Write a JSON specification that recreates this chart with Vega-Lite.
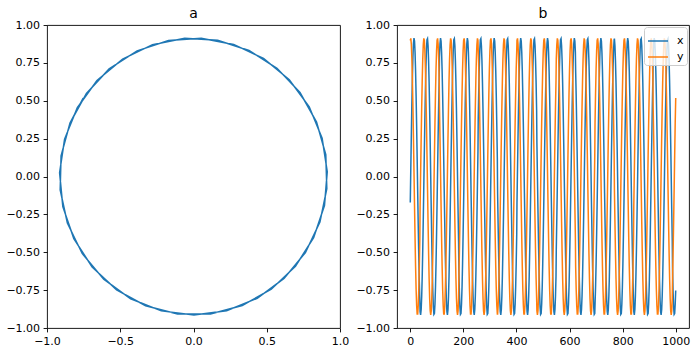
{
"$schema": "https://vega.github.io/schema/vega-lite/v6.json",
"padding": {"left": 5, "top": 6, "right": 5, "bottom": 5},
"background": "white",
"bounds": "flush",
"resolve": {"legend": {"color": "independent"}},
"config": {
"font": "DejaVu Sans",
"view": {"stroke": "#000", "strokeWidth": 0.9},
"axis": {"grid": false, "domain": false, "labelFlush": false, "tickColor": "#000", "tickSize": 3.9, "tickWidth": 0.9, "labelColor": "#000", "labelFontSize": 11, "labelPadding": 3.5, "labelFont": "DejaVu Sans"},
"title": {"fontSize": 14, "fontWeight": "normal", "font": "DejaVu Sans", "color": "#000", "offset": -2},
"concat": {"spacing": 57}
},
"data": {"values": [
{"t":0,"x":-0.171,"y":0.898},{"t":2,"x":0.053,"y":0.912},{"t":4,"x":0.274,"y":0.872},{"t":6,"x":0.478,"y":0.779},{"t":8,"x":0.654,"y":0.639},{"t":10,"x":0.79,"y":0.46},{"t":12,"x":0.878,"y":0.253},{"t":14,"x":0.913,"y":0.032},{"t":16,"x":0.894,"y":-0.192},{"t":18,"x":0.82,"y":-0.404},{"t":20,"x":0.696,"y":-0.592},{"t":22,"x":0.531,"y":-0.744},{"t":24,"x":0.333,"y":-0.851},{"t":26,"x":0.116,"y":-0.907},{"t":28,"x":-0.109,"y":-0.907},{"t":30,"x":-0.327,"y":-0.853},{"t":32,"x":-0.525,"y":-0.748},{"t":34,"x":-0.692,"y":-0.597},{"t":36,"x":-0.817,"y":-0.41},{"t":37,"x":-0.892,"y":-0.199},{"t":39,"x":-0.914,"y":0.025},{"t":41,"x":-0.88,"y":0.247},{"t":43,"x":-0.793,"y":0.454},{"t":45,"x":-0.659,"y":0.634},{"t":47,"x":-0.484,"y":0.775},{"t":49,"x":-0.28,"y":0.87},{"t":51,"x":-0.06,"y":0.912},{"t":53,"x":0.165,"y":0.899},{"t":55,"x":0.379,"y":0.832},{"t":57,"x":0.57,"y":0.714},{"t":59,"x":0.727,"y":0.554},{"t":61,"x":0.84,"y":0.359},{"t":63,"x":0.903,"y":0.144},{"t":65,"x":0.91,"y":-0.081},{"t":67,"x":0.863,"y":-0.301},{"t":69,"x":0.764,"y":-0.502},{"t":71,"x":0.618,"y":-0.673},{"t":73,"x":0.435,"y":-0.804},{"t":75,"x":0.226,"y":-0.886},{"t":77,"x":0.003,"y":-0.914},{"t":79,"x":-0.22,"y":-0.887},{"t":81,"x":-0.429,"y":-0.807},{"t":83,"x":-0.613,"y":-0.678},{"t":85,"x":-0.76,"y":-0.508},{"t":87,"x":-0.861,"y":-0.307},{"t":89,"x":-0.91,"y":-0.088},{"t":91,"x":-0.904,"y":0.137},{"t":93,"x":-0.843,"y":0.353},{"t":95,"x":-0.731,"y":0.548},{"t":97,"x":-0.576,"y":0.71},{"t":99,"x":-0.385,"y":0.829},
{"t":101,"x":-0.171,"y":0.898},{"t":103,"x":0.053,"y":0.912},{"t":105,"x":0.274,"y":0.872},{"t":107,"x":0.478,"y":0.779},{"t":109,"x":0.654,"y":0.639},{"t":110,"x":0.79,"y":0.46},{"t":112,"x":0.878,"y":0.253},{"t":114,"x":0.913,"y":0.032},{"t":116,"x":0.894,"y":-0.192},{"t":118,"x":0.82,"y":-0.404},{"t":120,"x":0.696,"y":-0.592},{"t":122,"x":0.531,"y":-0.744},{"t":124,"x":0.333,"y":-0.851},{"t":126,"x":0.116,"y":-0.907},{"t":128,"x":-0.109,"y":-0.907},{"t":130,"x":-0.327,"y":-0.853},{"t":132,"x":-0.525,"y":-0.748},{"t":134,"x":-0.692,"y":-0.597},{"t":136,"x":-0.817,"y":-0.41},{"t":138,"x":-0.892,"y":-0.199},{"t":140,"x":-0.914,"y":0.025},{"t":142,"x":-0.88,"y":0.247},{"t":144,"x":-0.793,"y":0.454},{"t":146,"x":-0.659,"y":0.634},{"t":148,"x":-0.484,"y":0.775},{"t":150,"x":-0.28,"y":0.87},{"t":152,"x":-0.06,"y":0.912},{"t":154,"x":0.165,"y":0.899},{"t":156,"x":0.379,"y":0.832},{"t":158,"x":0.57,"y":0.714},{"t":160,"x":0.727,"y":0.554},{"t":162,"x":0.84,"y":0.359},{"t":164,"x":0.903,"y":0.144},{"t":166,"x":0.91,"y":-0.081},{"t":168,"x":0.863,"y":-0.301},{"t":170,"x":0.764,"y":-0.502},{"t":172,"x":0.618,"y":-0.673},{"t":174,"x":0.435,"y":-0.804},{"t":176,"x":0.226,"y":-0.886},{"t":178,"x":0.003,"y":-0.914},{"t":180,"x":-0.22,"y":-0.887},{"t":182,"x":-0.429,"y":-0.807},{"t":183,"x":-0.613,"y":-0.678},{"t":185,"x":-0.76,"y":-0.508},{"t":187,"x":-0.861,"y":-0.307},{"t":189,"x":-0.91,"y":-0.088},{"t":191,"x":-0.904,"y":0.137},{"t":193,"x":-0.843,"y":0.353},{"t":195,"x":-0.731,"y":0.548},{"t":197,"x":-0.576,"y":0.71},{"t":199,"x":-0.385,"y":0.829},
{"t":201,"x":-0.171,"y":0.898},{"t":203,"x":0.053,"y":0.912},{"t":205,"x":0.274,"y":0.872},{"t":207,"x":0.478,"y":0.779},{"t":209,"x":0.654,"y":0.639},{"t":211,"x":0.79,"y":0.46},{"t":213,"x":0.878,"y":0.253},{"t":215,"x":0.913,"y":0.032},{"t":217,"x":0.894,"y":-0.192},{"t":219,"x":0.82,"y":-0.404},{"t":221,"x":0.696,"y":-0.592},{"t":223,"x":0.531,"y":-0.744},{"t":225,"x":0.333,"y":-0.851},{"t":227,"x":0.116,"y":-0.907},{"t":229,"x":-0.109,"y":-0.907},{"t":231,"x":-0.327,"y":-0.853},{"t":233,"x":-0.525,"y":-0.748},{"t":235,"x":-0.692,"y":-0.597},{"t":237,"x":-0.817,"y":-0.41},{"t":239,"x":-0.892,"y":-0.199},{"t":241,"x":-0.914,"y":0.025},{"t":243,"x":-0.88,"y":0.247},{"t":245,"x":-0.793,"y":0.454},{"t":247,"x":-0.659,"y":0.634},{"t":249,"x":-0.484,"y":0.775},{"t":251,"x":-0.28,"y":0.87},{"t":253,"x":-0.06,"y":0.912},{"t":255,"x":0.165,"y":0.899},{"t":256,"x":0.379,"y":0.832},{"t":258,"x":0.57,"y":0.714},{"t":260,"x":0.727,"y":0.554},{"t":262,"x":0.84,"y":0.359},{"t":264,"x":0.903,"y":0.144},{"t":266,"x":0.91,"y":-0.081},{"t":268,"x":0.863,"y":-0.301},{"t":270,"x":0.764,"y":-0.502},{"t":272,"x":0.618,"y":-0.673},{"t":274,"x":0.435,"y":-0.804},{"t":276,"x":0.226,"y":-0.886},{"t":278,"x":0.003,"y":-0.914},{"t":280,"x":-0.22,"y":-0.887},{"t":282,"x":-0.429,"y":-0.807},{"t":284,"x":-0.613,"y":-0.678},{"t":286,"x":-0.76,"y":-0.508},{"t":288,"x":-0.861,"y":-0.307},{"t":290,"x":-0.91,"y":-0.088},{"t":292,"x":-0.904,"y":0.137},{"t":294,"x":-0.843,"y":0.353},{"t":296,"x":-0.731,"y":0.548},{"t":298,"x":-0.576,"y":0.71},{"t":300,"x":-0.385,"y":0.829},
{"t":302,"x":-0.171,"y":0.898},{"t":304,"x":0.053,"y":0.912},{"t":306,"x":0.274,"y":0.872},{"t":308,"x":0.478,"y":0.779},{"t":310,"x":0.654,"y":0.639},{"t":312,"x":0.79,"y":0.46},{"t":314,"x":0.878,"y":0.253},{"t":316,"x":0.913,"y":0.032},{"t":318,"x":0.894,"y":-0.192},{"t":320,"x":0.82,"y":-0.404},{"t":322,"x":0.696,"y":-0.592},{"t":324,"x":0.531,"y":-0.744},{"t":326,"x":0.333,"y":-0.851},{"t":328,"x":0.116,"y":-0.907},{"t":329,"x":-0.109,"y":-0.907},{"t":331,"x":-0.327,"y":-0.853},{"t":333,"x":-0.525,"y":-0.748},{"t":335,"x":-0.692,"y":-0.597},{"t":337,"x":-0.817,"y":-0.41},{"t":339,"x":-0.892,"y":-0.199},{"t":341,"x":-0.914,"y":0.025},{"t":343,"x":-0.88,"y":0.247},{"t":345,"x":-0.793,"y":0.454},{"t":347,"x":-0.659,"y":0.634},{"t":349,"x":-0.484,"y":0.775},{"t":351,"x":-0.28,"y":0.87},{"t":353,"x":-0.06,"y":0.912},{"t":355,"x":0.165,"y":0.899},{"t":357,"x":0.379,"y":0.832},{"t":359,"x":0.57,"y":0.714},{"t":361,"x":0.727,"y":0.554},{"t":363,"x":0.84,"y":0.359},{"t":365,"x":0.903,"y":0.144},{"t":367,"x":0.91,"y":-0.081},{"t":369,"x":0.863,"y":-0.301},{"t":371,"x":0.764,"y":-0.502},{"t":373,"x":0.618,"y":-0.673},{"t":375,"x":0.435,"y":-0.804},{"t":377,"x":0.226,"y":-0.886},{"t":379,"x":0.003,"y":-0.914},{"t":381,"x":-0.22,"y":-0.887},{"t":383,"x":-0.429,"y":-0.807},{"t":385,"x":-0.613,"y":-0.678},{"t":387,"x":-0.76,"y":-0.508},{"t":389,"x":-0.861,"y":-0.307},{"t":391,"x":-0.91,"y":-0.088},{"t":393,"x":-0.904,"y":0.137},{"t":395,"x":-0.843,"y":0.353},{"t":397,"x":-0.731,"y":0.548},{"t":399,"x":-0.576,"y":0.71},{"t":401,"x":-0.385,"y":0.829},
{"t":402,"x":-0.171,"y":0.898},{"t":404,"x":0.053,"y":0.912},{"t":406,"x":0.274,"y":0.872},{"t":408,"x":0.478,"y":0.779},{"t":410,"x":0.654,"y":0.639},{"t":412,"x":0.79,"y":0.46},{"t":414,"x":0.878,"y":0.253},{"t":416,"x":0.913,"y":0.032},{"t":418,"x":0.894,"y":-0.192},{"t":420,"x":0.82,"y":-0.404},{"t":422,"x":0.696,"y":-0.592},{"t":424,"x":0.531,"y":-0.744},{"t":426,"x":0.333,"y":-0.851},{"t":428,"x":0.116,"y":-0.907},{"t":430,"x":-0.109,"y":-0.907},{"t":432,"x":-0.327,"y":-0.853},{"t":434,"x":-0.525,"y":-0.748},{"t":436,"x":-0.692,"y":-0.597},{"t":438,"x":-0.817,"y":-0.41},{"t":440,"x":-0.892,"y":-0.199},{"t":442,"x":-0.914,"y":0.025},{"t":444,"x":-0.88,"y":0.247},{"t":446,"x":-0.793,"y":0.454},{"t":448,"x":-0.659,"y":0.634},{"t":450,"x":-0.484,"y":0.775},{"t":452,"x":-0.28,"y":0.87},{"t":454,"x":-0.06,"y":0.912},{"t":456,"x":0.165,"y":0.899},{"t":458,"x":0.379,"y":0.832},{"t":460,"x":0.57,"y":0.714},{"t":462,"x":0.727,"y":0.554},{"t":464,"x":0.84,"y":0.359},{"t":466,"x":0.903,"y":0.144},{"t":468,"x":0.91,"y":-0.081},{"t":470,"x":0.863,"y":-0.301},{"t":472,"x":0.764,"y":-0.502},{"t":474,"x":0.618,"y":-0.673},{"t":476,"x":0.435,"y":-0.804},{"t":477,"x":0.226,"y":-0.886},{"t":479,"x":0.003,"y":-0.914},{"t":481,"x":-0.22,"y":-0.887},{"t":483,"x":-0.429,"y":-0.807},{"t":485,"x":-0.613,"y":-0.678},{"t":487,"x":-0.76,"y":-0.508},{"t":489,"x":-0.861,"y":-0.307},{"t":491,"x":-0.91,"y":-0.088},{"t":493,"x":-0.904,"y":0.137},{"t":495,"x":-0.843,"y":0.353},{"t":497,"x":-0.731,"y":0.548},{"t":499,"x":-0.576,"y":0.71},{"t":501,"x":-0.385,"y":0.829},
{"t":503,"x":-0.171,"y":0.898},{"t":505,"x":0.053,"y":0.912},{"t":507,"x":0.274,"y":0.872},{"t":509,"x":0.478,"y":0.779},{"t":511,"x":0.654,"y":0.639},{"t":513,"x":0.79,"y":0.46},{"t":515,"x":0.878,"y":0.253},{"t":517,"x":0.913,"y":0.032},{"t":519,"x":0.894,"y":-0.192},{"t":521,"x":0.82,"y":-0.404},{"t":523,"x":0.696,"y":-0.592},{"t":525,"x":0.531,"y":-0.744},{"t":527,"x":0.333,"y":-0.851},{"t":529,"x":0.116,"y":-0.907},{"t":531,"x":-0.109,"y":-0.907},{"t":533,"x":-0.327,"y":-0.853},{"t":535,"x":-0.525,"y":-0.748},{"t":537,"x":-0.692,"y":-0.597},{"t":539,"x":-0.817,"y":-0.41},{"t":541,"x":-0.892,"y":-0.199},{"t":543,"x":-0.914,"y":0.025},{"t":545,"x":-0.88,"y":0.247},{"t":547,"x":-0.793,"y":0.454},{"t":549,"x":-0.659,"y":0.634},{"t":550,"x":-0.484,"y":0.775},{"t":552,"x":-0.28,"y":0.87},{"t":554,"x":-0.06,"y":0.912},{"t":556,"x":0.165,"y":0.899},{"t":558,"x":0.379,"y":0.832},{"t":560,"x":0.57,"y":0.714},{"t":562,"x":0.727,"y":0.554},{"t":564,"x":0.84,"y":0.359},{"t":566,"x":0.903,"y":0.144},{"t":568,"x":0.91,"y":-0.081},{"t":570,"x":0.863,"y":-0.301},{"t":572,"x":0.764,"y":-0.502},{"t":574,"x":0.618,"y":-0.673},{"t":576,"x":0.435,"y":-0.804},{"t":578,"x":0.226,"y":-0.886},{"t":580,"x":0.003,"y":-0.914},{"t":582,"x":-0.22,"y":-0.887},{"t":584,"x":-0.429,"y":-0.807},{"t":586,"x":-0.613,"y":-0.678},{"t":588,"x":-0.76,"y":-0.508},{"t":590,"x":-0.861,"y":-0.307},{"t":592,"x":-0.91,"y":-0.088},{"t":594,"x":-0.904,"y":0.137},{"t":596,"x":-0.843,"y":0.353},{"t":598,"x":-0.731,"y":0.548},{"t":600,"x":-0.576,"y":0.71},{"t":602,"x":-0.385,"y":0.829},
{"t":604,"x":-0.171,"y":0.898},{"t":606,"x":0.053,"y":0.912},{"t":608,"x":0.274,"y":0.872},{"t":610,"x":0.478,"y":0.779},{"t":612,"x":0.654,"y":0.639},{"t":614,"x":0.79,"y":0.46},{"t":616,"x":0.878,"y":0.253},{"t":618,"x":0.913,"y":0.032},{"t":620,"x":0.894,"y":-0.192},{"t":622,"x":0.82,"y":-0.404},{"t":623,"x":0.696,"y":-0.592},{"t":625,"x":0.531,"y":-0.744},{"t":627,"x":0.333,"y":-0.851},{"t":629,"x":0.116,"y":-0.907},{"t":631,"x":-0.109,"y":-0.907},{"t":633,"x":-0.327,"y":-0.853},{"t":635,"x":-0.525,"y":-0.748},{"t":637,"x":-0.692,"y":-0.597},{"t":639,"x":-0.817,"y":-0.41},{"t":641,"x":-0.892,"y":-0.199},{"t":643,"x":-0.914,"y":0.025},{"t":645,"x":-0.88,"y":0.247},{"t":647,"x":-0.793,"y":0.454},{"t":649,"x":-0.659,"y":0.634},{"t":651,"x":-0.484,"y":0.775},{"t":653,"x":-0.28,"y":0.87},{"t":655,"x":-0.06,"y":0.912},{"t":657,"x":0.165,"y":0.899},{"t":659,"x":0.379,"y":0.832},{"t":661,"x":0.57,"y":0.714},{"t":663,"x":0.727,"y":0.554},{"t":665,"x":0.84,"y":0.359},{"t":667,"x":0.903,"y":0.144},{"t":669,"x":0.91,"y":-0.081},{"t":671,"x":0.863,"y":-0.301},{"t":673,"x":0.764,"y":-0.502},{"t":675,"x":0.618,"y":-0.673},{"t":677,"x":0.435,"y":-0.804},{"t":679,"x":0.226,"y":-0.886},{"t":681,"x":0.003,"y":-0.914},{"t":683,"x":-0.22,"y":-0.887},{"t":685,"x":-0.429,"y":-0.807},{"t":687,"x":-0.613,"y":-0.678},{"t":689,"x":-0.76,"y":-0.508},{"t":691,"x":-0.861,"y":-0.307},{"t":693,"x":-0.91,"y":-0.088},{"t":695,"x":-0.904,"y":0.137},{"t":696,"x":-0.843,"y":0.353},{"t":698,"x":-0.731,"y":0.548},{"t":700,"x":-0.576,"y":0.71},{"t":702,"x":-0.385,"y":0.829},
{"t":704,"x":-0.171,"y":0.898},{"t":706,"x":0.053,"y":0.912},{"t":708,"x":0.274,"y":0.872},{"t":710,"x":0.478,"y":0.779},{"t":712,"x":0.654,"y":0.639},{"t":714,"x":0.79,"y":0.46},{"t":716,"x":0.878,"y":0.253},{"t":718,"x":0.913,"y":0.032},{"t":720,"x":0.894,"y":-0.192},{"t":722,"x":0.82,"y":-0.404},{"t":724,"x":0.696,"y":-0.592},{"t":726,"x":0.531,"y":-0.744},{"t":728,"x":0.333,"y":-0.851},{"t":730,"x":0.116,"y":-0.907},{"t":732,"x":-0.109,"y":-0.907},{"t":734,"x":-0.327,"y":-0.853},{"t":736,"x":-0.525,"y":-0.748},{"t":738,"x":-0.692,"y":-0.597},{"t":740,"x":-0.817,"y":-0.41},{"t":742,"x":-0.892,"y":-0.199},{"t":744,"x":-0.914,"y":0.025},{"t":746,"x":-0.88,"y":0.247},{"t":748,"x":-0.793,"y":0.454},{"t":750,"x":-0.659,"y":0.634},{"t":752,"x":-0.484,"y":0.775},{"t":754,"x":-0.28,"y":0.87},{"t":756,"x":-0.06,"y":0.912},{"t":758,"x":0.165,"y":0.899},{"t":760,"x":0.379,"y":0.832},{"t":762,"x":0.57,"y":0.714},{"t":764,"x":0.727,"y":0.554},{"t":766,"x":0.84,"y":0.359},{"t":768,"x":0.903,"y":0.144},{"t":769,"x":0.91,"y":-0.081},{"t":771,"x":0.863,"y":-0.301},{"t":773,"x":0.764,"y":-0.502},{"t":775,"x":0.618,"y":-0.673},{"t":777,"x":0.435,"y":-0.804},{"t":779,"x":0.226,"y":-0.886},{"t":781,"x":0.003,"y":-0.914},{"t":783,"x":-0.22,"y":-0.887},{"t":785,"x":-0.429,"y":-0.807},{"t":787,"x":-0.613,"y":-0.678},{"t":789,"x":-0.76,"y":-0.508},{"t":791,"x":-0.861,"y":-0.307},{"t":793,"x":-0.91,"y":-0.088},{"t":795,"x":-0.904,"y":0.137},{"t":797,"x":-0.843,"y":0.353},{"t":799,"x":-0.731,"y":0.548},{"t":801,"x":-0.576,"y":0.71},{"t":803,"x":-0.385,"y":0.829},
{"t":805,"x":-0.171,"y":0.898},{"t":807,"x":0.053,"y":0.912},{"t":809,"x":0.274,"y":0.872},{"t":811,"x":0.478,"y":0.779},{"t":813,"x":0.654,"y":0.639},{"t":815,"x":0.79,"y":0.46},{"t":817,"x":0.878,"y":0.253},{"t":819,"x":0.913,"y":0.032},{"t":821,"x":0.894,"y":-0.192},{"t":823,"x":0.82,"y":-0.404},{"t":825,"x":0.696,"y":-0.592},{"t":827,"x":0.531,"y":-0.744},{"t":829,"x":0.333,"y":-0.851},{"t":831,"x":0.116,"y":-0.907},{"t":833,"x":-0.109,"y":-0.907},{"t":835,"x":-0.327,"y":-0.853},{"t":837,"x":-0.525,"y":-0.748},{"t":839,"x":-0.692,"y":-0.597},{"t":841,"x":-0.817,"y":-0.41},{"t":842,"x":-0.892,"y":-0.199},{"t":844,"x":-0.914,"y":0.025},{"t":846,"x":-0.88,"y":0.247},{"t":848,"x":-0.793,"y":0.454},{"t":850,"x":-0.659,"y":0.634},{"t":852,"x":-0.484,"y":0.775},{"t":854,"x":-0.28,"y":0.87},{"t":856,"x":-0.06,"y":0.912},{"t":858,"x":0.165,"y":0.899},{"t":860,"x":0.379,"y":0.832},{"t":862,"x":0.57,"y":0.714},{"t":864,"x":0.727,"y":0.554},{"t":866,"x":0.84,"y":0.359},{"t":868,"x":0.903,"y":0.144},{"t":870,"x":0.91,"y":-0.081},{"t":872,"x":0.863,"y":-0.301},{"t":874,"x":0.764,"y":-0.502},{"t":876,"x":0.618,"y":-0.673},{"t":878,"x":0.435,"y":-0.804},{"t":880,"x":0.226,"y":-0.886},{"t":882,"x":0.003,"y":-0.914},{"t":884,"x":-0.22,"y":-0.887},{"t":886,"x":-0.429,"y":-0.807},{"t":888,"x":-0.613,"y":-0.678},{"t":890,"x":-0.76,"y":-0.508},{"t":892,"x":-0.861,"y":-0.307},{"t":894,"x":-0.91,"y":-0.088},{"t":896,"x":-0.904,"y":0.137},{"t":898,"x":-0.843,"y":0.353},{"t":900,"x":-0.731,"y":0.548},{"t":902,"x":-0.576,"y":0.71},{"t":904,"x":-0.385,"y":0.829},
{"t":906,"x":-0.171,"y":0.898},{"t":908,"x":0.053,"y":0.912},{"t":910,"x":0.274,"y":0.872},{"t":912,"x":0.478,"y":0.779},{"t":914,"x":0.654,"y":0.639},{"t":915,"x":0.79,"y":0.46},{"t":917,"x":0.878,"y":0.253},{"t":919,"x":0.913,"y":0.032},{"t":921,"x":0.894,"y":-0.192},{"t":923,"x":0.82,"y":-0.404},{"t":925,"x":0.696,"y":-0.592},{"t":927,"x":0.531,"y":-0.744},{"t":929,"x":0.333,"y":-0.851},{"t":931,"x":0.116,"y":-0.907},{"t":933,"x":-0.109,"y":-0.907},{"t":935,"x":-0.327,"y":-0.853},{"t":937,"x":-0.525,"y":-0.748},{"t":939,"x":-0.692,"y":-0.597},{"t":941,"x":-0.817,"y":-0.41},{"t":943,"x":-0.892,"y":-0.199},{"t":945,"x":-0.914,"y":0.025},{"t":947,"x":-0.88,"y":0.247},{"t":949,"x":-0.793,"y":0.454},{"t":951,"x":-0.659,"y":0.634},{"t":953,"x":-0.484,"y":0.775},{"t":955,"x":-0.28,"y":0.87},{"t":957,"x":-0.06,"y":0.912},{"t":959,"x":0.165,"y":0.899},{"t":961,"x":0.379,"y":0.832},{"t":963,"x":0.57,"y":0.714},{"t":965,"x":0.727,"y":0.554},{"t":967,"x":0.84,"y":0.359},{"t":969,"x":0.903,"y":0.144},{"t":971,"x":0.91,"y":-0.081},{"t":973,"x":0.863,"y":-0.301},{"t":975,"x":0.764,"y":-0.502},{"t":977,"x":0.618,"y":-0.673},{"t":979,"x":0.435,"y":-0.804},{"t":981,"x":0.226,"y":-0.886},{"t":983,"x":0.003,"y":-0.914},{"t":985,"x":-0.22,"y":-0.887},{"t":987,"x":-0.429,"y":-0.807},{"t":988,"x":-0.613,"y":-0.678},{"t":990,"x":-0.76,"y":-0.508},{"t":992,"x":-0.861,"y":-0.307},{"t":994,"x":-0.91,"y":-0.088},{"t":996,"x":-0.904,"y":0.137},{"t":998,"x":-0.843,"y":0.353},
{"t":1000,"x":-0.753,"y":0.518}
]},
"hconcat": [
{
"title": "a",
"width": 293, "height": 303,
"mark": {"type": "line", "color": "#1f77b4", "strokeWidth": 1.5},
"encoding": {
"x": {"field": "x", "type": "quantitative", "scale": {"domain": [-1, 1], "nice": false, "zero": false}, "axis": {"title": null, "values": [-1, -0.5, 0, 0.5, 1], "format": ".1f"}},
"y": {"field": "y", "type": "quantitative", "scale": {"domain": [-1, 1], "nice": false, "zero": false}, "axis": {"title": null, "values": [-1, -0.75, -0.5, -0.25, 0, 0.25, 0.5, 0.75, 1], "format": ".2f"}},
"order": {"field": "t", "type": "quantitative"}
}
},
{
"title": "b",
"width": 292, "height": 303,
"transform": [{"fold": ["x", "y"], "as": ["series", "value"]}],
"mark": {"type": "line", "strokeWidth": 1.5},
"encoding": {
"x": {"field": "t", "type": "quantitative", "scale": {"domain": [-50, 1050], "nice": false, "zero": false}, "axis": {"title": null, "values": [0, 200, 400, 600, 800, 1000], "format": "d"}},
"y": {"field": "value", "type": "quantitative", "scale": {"domain": [-1, 1], "nice": false, "zero": false}, "axis": {"title": null, "values": [-1, -0.75, -0.5, -0.25, 0, 0.25, 0.5, 0.75, 1], "format": ".2f"}},
"color": {"field": "series", "type": "nominal", "scale": {"domain": ["x", "y"], "range": ["#1f77b4", "#ff7f0e"]}, "legend": {"title": null, "orient": "top-right", "offset": 2, "symbolType": "stroke", "symbolSize": 400, "symbolStrokeWidth": 1.5, "labelFontSize": 11, "labelColor": "#000", "labelOffset": 8, "fillColor": "rgba(255,255,255,0.8)", "strokeColor": "#cccccc", "cornerRadius": 3, "padding": 3, "rowPadding": -3}},
"order": {"field": "t", "type": "quantitative"}
}
}
]
}
